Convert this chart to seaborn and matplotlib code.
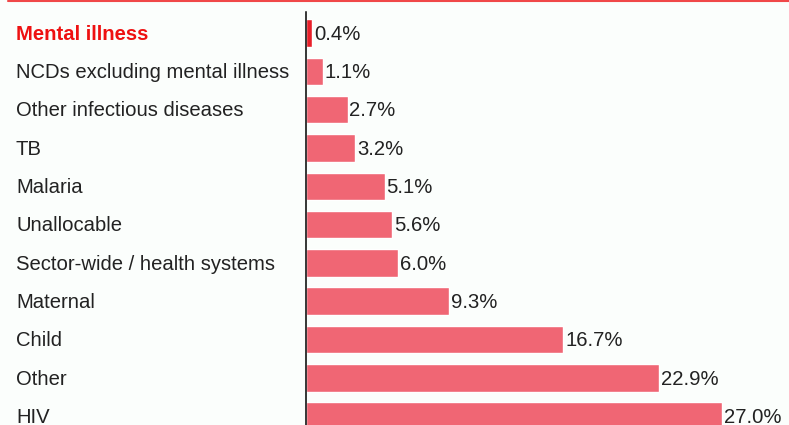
import matplotlib
matplotlib.use("Agg")
import matplotlib.pyplot as plt
import matplotlib.transforms as mtransforms
from matplotlib.lines import Line2D
import seaborn as sns
import pandas as pd

categories = ["Mental illness", "NCDs excluding mental illness", "Other infectious diseases",
              "TB", "Malaria", "Unallocable", "Sector-wide / health systems",
              "Maternal", "Child", "Other", "HIV"]
values = [0.4, 1.1, 2.7, 3.2, 5.1, 5.6, 6.0, 9.3, 16.7, 22.9, 27.0]
value_labels = ["0.4%", "1.1%", "2.7%", "3.2%", "5.1%", "5.6%", "6.0%",
                "9.3%", "16.7%", "22.9%", "27.0%"]
highlight = "Mental illness"

sns.set_style("white")
plt.rcParams['font.family'] = ['Liberation Sans', 'DejaVu Sans']

bg = "#fbfefc"
bar_col = "#f06674"
hi_col = "#e8202a"
txt_col = "#222222"
fs = 14.6

df = pd.DataFrame({"category": categories, "value": values})
palette = {c: (hi_col if c == highlight else bar_col) for c in categories}

fig = plt.figure(figsize=(7.89, 4.25), dpi=100, facecolor=bg)
ax = fig.add_axes([306 / 789, 0, 1 - 306 / 789, (425 - 12) / 425])
ax.set_facecolor(bg)

sns.barplot(data=df, x="value", y="category", hue="category", palette=palette,
            order=categories, width=0.72, legend=False, ax=ax, saturation=1)

ax.set_xlim(0, (789 - 306) / 15.4)
ax.set_ylim(10.23, -0.55)

for i, (v, lab) in enumerate(zip(values, value_labels)):
    ax.text(v + 0.12, i + 0.03, lab, va="center", ha="left", fontsize=fs, color=txt_col)

trans = mtransforms.blended_transform_factory(fig.transFigure, ax.transData)
for i, c in enumerate(categories):
    if c == highlight:
        ax.text(16 / 789, i + 0.03, c, transform=trans, va="center", ha="left",
                fontsize=fs, color="#ee1111", fontweight="bold")
    else:
        ax.text(16 / 789, i + 0.03, c, transform=trans, va="center", ha="left",
                fontsize=fs, color=txt_col)

ax.set_xlabel("")
ax.set_ylabel("")
ax.set_xticks([])
ax.set_yticks([])
for s in ["top", "right", "bottom"]:
    ax.spines[s].set_visible(False)
ax.spines["left"].set_color("#000000")
ax.spines["left"].set_linewidth(1.1)

# red rule along the top
fig.add_artist(Line2D([8 / 789, 1], [1 - 1 / 425, 1 - 1 / 425], color="#f04848",
                      linewidth=1.5, transform=fig.transFigure))

fig.savefig("out.png", dpi=100, facecolor=bg)
